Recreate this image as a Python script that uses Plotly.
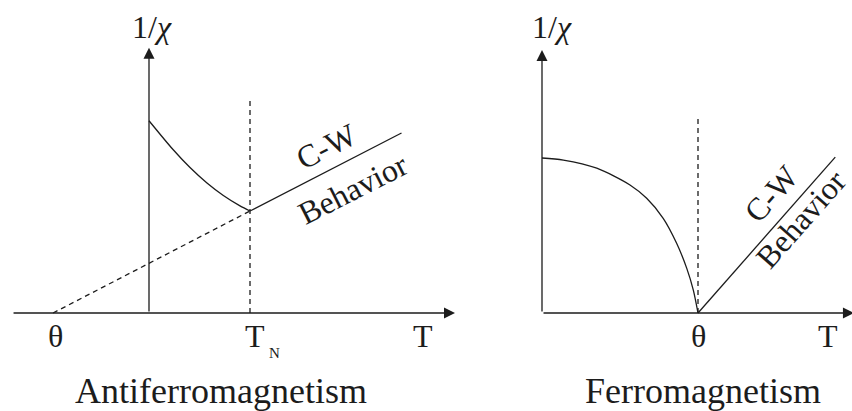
import plotly.graph_objects as go

FONT = "Liberation Serif"
INK = "#1c1c1c"

# ---------------- Antiferromagnet ----------------
# T measured in units of T_N, 1/chi in units of 1/chi(T_N)
afm_theta = -0.95
afm_TN = 1.0
afm_low_T = [0.0, 0.24, 0.406, 0.571, 0.736, 0.901, 1.0]
afm_low_inv_chi = [1.885, 1.60, 1.426, 1.277, 1.152, 1.05, 1.0]
afm_cw_T = [1.0, 2.5]
afm_cw_inv_chi = [1.0, 1.765]
afm_extrap_T = [afm_theta, afm_TN]
afm_extrap_inv_chi = [0.0, 1.0]
afm_TN_line = [0.0, 2.1]
afm_T_axis = [-1.356, 3.03]
afm_chi_axis_top = 2.6

# ---------------- Ferromagnet ----------------
# T measured in units of theta, 1/chi in units of 1/chi(0)
fm_theta = 1.0
fm_low_T = [0.0, 0.137, 0.351, 0.564, 0.671, 0.777, 0.863, 0.928, 0.970, 1.0]
fm_low_inv_chi = [1.0, 0.987, 0.934, 0.826, 0.740, 0.611, 0.450, 0.288, 0.148, 0.0]
fm_cw_T = [1.0, 1.88]
fm_cw_inv_chi = [0.0, 1.006]
fm_theta_line = [0.0, 1.258]
fm_T_axis_end = 2.0
fm_chi_axis_top = 1.697

LW = 1.3
DASH = "5px,4px"

fig = go.Figure()


def line(x, y, xa, ya, dash=None, shape="linear", smoothing=None):
    ln = dict(color=INK, width=LW, shape=shape)
    if dash:
        ln["dash"] = dash
    if smoothing is not None:
        ln["smoothing"] = smoothing
    fig.add_trace(go.Scatter(x=x, y=y, mode="lines", line=ln,
                             xaxis=xa, yaxis=ya, hoverinfo="skip"))


# left panel
line(afm_low_T, afm_low_inv_chi, "x", "y", shape="spline", smoothing=0.8)
line(afm_cw_T, afm_cw_inv_chi, "x", "y")
line(afm_extrap_T, afm_extrap_inv_chi, "x", "y", dash=DASH)
line([afm_TN, afm_TN], afm_TN_line, "x", "y", dash=DASH)

# right panel
line(fm_low_T, fm_low_inv_chi, "x2", "y2", shape="spline", smoothing=0.8)
line(fm_cw_T, fm_cw_inv_chi, "x2", "y2")
line([fm_theta, fm_theta], fm_theta_line, "x2", "y2", dash=DASH)


def arrow(x0, y0, x1, y1, xr, yr):
    return dict(x=x1, y=y1, ax=x0, ay=y0, xref=xr, yref=yr, axref=xr, ayref=yr,
                text="", showarrow=True, arrowhead=2, arrowsize=1.7,
                arrowwidth=LW, arrowcolor=INK, standoff=0, startstandoff=0)


def label(x, y, text, xr, yr, size=32, angle=0):
    return dict(x=x, y=y, xref=xr, yref=yr, text=text, showarrow=False,
                textangle=angle, xanchor="center", yanchor="middle",
                font=dict(family=FONT, size=size, color=INK))


annotations = [
    # axes
    arrow(afm_T_axis[0], 0, afm_T_axis[1], 0, "x", "y"),
    arrow(0, 0, 0, afm_chi_axis_top, "x", "y"),
    arrow(0, 0, fm_T_axis_end, 0, "x2", "y2"),
    arrow(0, 0, 0, fm_chi_axis_top, "x2", "y2"),
    # left labels
    label(0.03, 2.80, "1/<i>χ</i>", "x", "y"),
    label(-0.93, -0.225, "θ", "x", "y"),
    label(1.05, -0.225, "T", "x", "y"),
    label(1.245, -0.392, "N", "x", "y", size=15),
    label(2.713, -0.225, "T", "x", "y"),
    label(0.713, -0.765, "Antiferromagnetism", "x", "y", size=36),
    label(1.762, 1.637, "C-W", "x", "y", angle=-27),
    label(2.015, 1.216, "Behavior", "x", "y", angle=-27),
    # right labels
    label(0.064, 1.845, "1/<i>χ</i>", "x2", "y2"),
    label(1.0, -0.148, "θ", "x2", "y2"),
    label(1.833, -0.148, "T", "x2", "y2"),
    label(1.029, -0.503, "Ferromagnetism", "x2", "y2", size=36),
    label(1.468, 0.768, "C-W", "x2", "y2", angle=-48.7),
    label(1.66, 0.606, "Behavior", "x2", "y2", angle=-48.7),
]

split = 460 / 852
hidden = dict(visible=False, showgrid=False, zeroline=False, fixedrange=True)
fig.update_layout(
    width=852, height=411,
    margin=dict(l=0, r=0, t=0, b=0),
    paper_bgcolor="white", plot_bgcolor="white",
    showlegend=False,
    font=dict(family=FONT, color=INK),
    xaxis=dict(domain=[0, split], range=[-149 / 101, 311 / 101], **hidden),
    yaxis=dict(domain=[0, 1], range=[-98 / 102, 313 / 102], **hidden),
    xaxis2=dict(domain=[split, 1], range=[-82 / 156, 310 / 156], **hidden),
    yaxis2=dict(domain=[0, 1], range=[-98 / 155, 313 / 155], anchor="x2", **hidden),
    annotations=annotations,
)

fig.write_html("out.html")
